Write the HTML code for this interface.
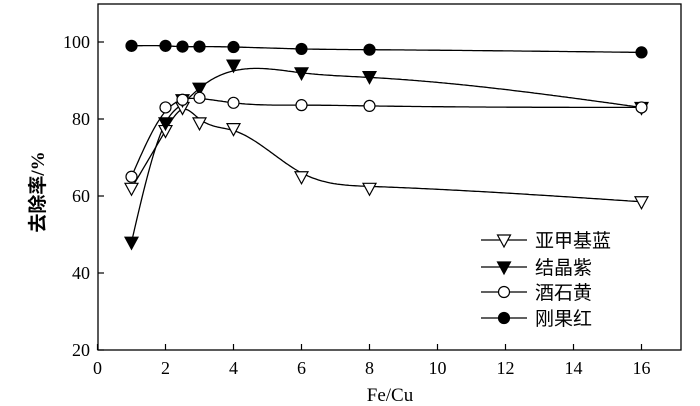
<!DOCTYPE html>
<html><head><meta charset="utf-8"><style>
body{margin:0;background:#fff;}
svg{display:block;font-family:"Liberation Serif","Noto Serif CJK SC",serif;}
</style></head><body>
<svg id="s" width="700" height="406" viewBox="0 0 700 406" xmlns="http://www.w3.org/2000/svg">
<rect x="98" y="4" width="583" height="346" fill="none" stroke="#000" stroke-width="1.3"/>
<g id="ticks" stroke="#000" stroke-width="1.2"></g>
<g font-size="18" text-anchor="middle" id="xl"></g>
<g font-size="18" text-anchor="end" id="yl"></g>
<text x="390" y="401" font-size="19" text-anchor="middle">Fe/Cu</text>
<text transform="translate(44,192) rotate(-90)" font-size="19" font-weight="bold" text-anchor="middle" font-family="Liberation Serif,'Noto Sans CJK SC',sans-serif">去除率/%</text>
<g id="plot"></g>
<g font-size="19" font-family="Liberation Sans,'Noto Sans CJK SC',sans-serif">
<text x="535" y="247">亚甲基蓝</text>
<text x="535" y="274">结晶紫</text>
<text x="535" y="299">酒石黄</text>
<text x="535" y="325">刚果红</text>
</g>
</svg>
<script>
var NS="http://www.w3.org/2000/svg";
function X(v){return 97.5+34*v;}function Y(v){return 350-(v-20)*3.85;}
function el(p,t,a){var e=document.createElementNS(NS,t);for(var k in a)e.setAttribute(k,a[k]);p.appendChild(e);return e;}
var tk=document.getElementById('ticks'),xl=document.getElementById('xl'),yl=document.getElementById('yl');
for(var i=0;i<=16;i+=2){el(tk,'line',{x1:X(i),x2:X(i),y1:350,y2:344});var t=el(xl,'text',{x:X(i),y:374});t.textContent=i;}
for(var v=20;v<=100;v+=20){el(tk,'line',{x1:98,x2:104,y1:Y(v),y2:Y(v)});var t=el(yl,'text',{x:90,y:Y(v)+6});t.textContent=v;}
var xs=[1,2,2.5,3,4,6,8,16];
var S=[
 {d:[62,77,83,79,77.5,65,62,58.5],c:[62,77,82.5,80,77,66,62.5,58.5],m:'tri',f:'#fff',ly:240},
 {d:[48,79,85,88,94,92,91,83],c:[48,79,84,88,92.5,92,90.8,83],m:'tri',f:'#000',ly:267},
 {d:[65,83,85,85.5,84.2,83.6,83.4,83],c:[65,82,85,85.3,84.2,83.6,83.4,83],m:'c',f:'#fff',ly:292},
 {d:[99,99,98.8,98.8,98.7,98.2,98,97.3],c:[99,99,98.8,98.8,98.7,98.2,98,97.3],m:'c',f:'#000',ly:318}];
var g=document.getElementById('plot');
// monotone-free natural cubic spline
function spline(x,y){var n=x.length,h=[],al=[],l=[1],mu=[0],z=[0],c=new Array(n).fill(0),b=[],d=[];
for(var i=0;i<n-1;i++)h[i]=x[i+1]-x[i];
for(var i=1;i<n-1;i++)al[i]=3/h[i]*(y[i+1]-y[i])-3/h[i-1]*(y[i]-y[i-1]);
for(var i=1;i<n-1;i++){l[i]=2*(x[i+1]-x[i-1])-h[i-1]*mu[i-1];mu[i]=h[i]/l[i];z[i]=(al[i]-h[i-1]*z[i-1])/l[i];}
l[n-1]=1;z[n-1]=0;
for(var j=n-2;j>=0;j--){c[j]=z[j]-mu[j]*c[j+1];b[j]=(y[j+1]-y[j])/h[j]-h[j]*(c[j+1]+2*c[j])/3;d[j]=(c[j+1]-c[j])/(3*h[j]);}
return function(t){var j=0;while(j<n-2&&t>x[j+1])j++;var dx=t-x[j];return y[j]+b[j]*dx+c[j]*dx*dx+d[j]*dx*dx*dx;};}
function mark(x,y,s){if(s.m=='c')el(g,'circle',{cx:x,cy:y,r:5.5,fill:s.f,stroke:'#000','stroke-width':1.2});else el(g,'path',{d:'M'+(x-6.5)+','+(y-5)+'L'+(x+6.5)+','+(y-5)+'L'+x+','+(y+7)+'Z',fill:s.f,stroke:'#000','stroke-width':1.2});}
S.forEach(function(s){var f=spline(xs,s.c);var d='';for(var t=1;t<=16.0001;t+=0.05){d+=(d?'L':'M')+X(t).toFixed(1)+','+Y(f(t)).toFixed(1);}el(g,'path',{d:d,fill:'none',stroke:'#000','stroke-width':1.3});});
S.forEach(function(s){xs.forEach(function(x,i){mark(X(x),Y(s.d[i]),s);});el(g,'line',{x1:481,x2:527,y1:s.ly,y2:s.ly,stroke:'#000','stroke-width':1.3});mark(504,s.ly,s);});
</script>
</body></html>
